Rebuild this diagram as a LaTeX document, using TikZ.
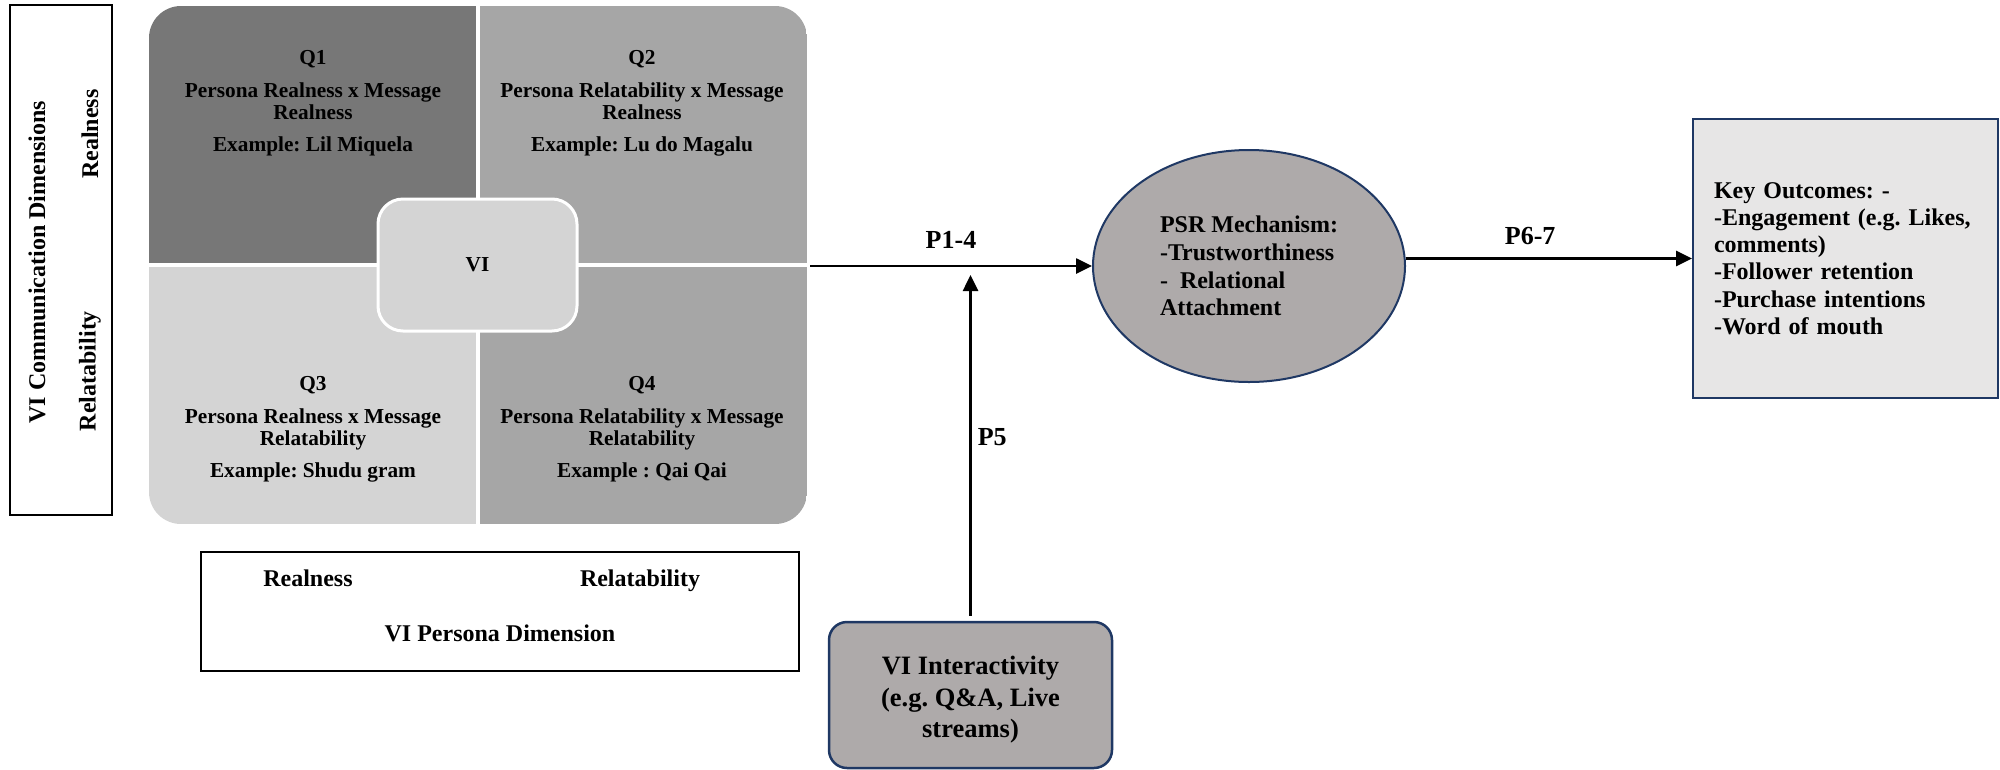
\documentclass[tikz,border=0pt]{standalone}
\usepackage{fontspec}
\setmainfont{Liberation Serif}
\usetikzlibrary{arrows.meta,shapes.geometric}
\definecolor{qa}{HTML}{777777}
\definecolor{qb}{HTML}{A6A6A6}
\definecolor{qc}{HTML}{D4D4D4}
\definecolor{warm}{HTML}{AEAAAA}
\definecolor{navy}{HTML}{1F3864}
\definecolor{lightbg}{HTML}{E7E6E6}
\frenchspacing
\begin{document}
\begin{tikzpicture}[x=1pt,y=-1pt,
  qtext/.style={align=center, font=\bfseries\fontsize{21.3}{22}\selectfont, inner sep=0},
  big/.style={font=\bfseries\fontsize{24}{27}\selectfont, inner sep=0},
  arr/.style={line width=2.6pt, -{Triangle[length=16pt,width=15pt]}},
  plabel/.style={font=\bfseries\fontsize{26}{28}\selectfont, inner sep=0},
  frame/.style={draw, line width=2pt, inner sep=0}
]
\useasboundingbox (0,0) rectangle (2000,769);

% left dimension box
\node[frame, minimum width=102pt, minimum height=510pt] (leftbox) at (61,260) {};
\node[big, rotate=90] (vicd) at (37,262) {VI Communication Dimensions};
\node[big, rotate=90] (lreal) at (90,134) {Realness};
\node[big, rotate=90] (lrel) at (90,371) {Relatability};

% quadrants
\begin{scope}
\clip[rounded corners=32pt] (149,6) rectangle (807,524);
\fill[qa] (149,6) rectangle (478,265);
\fill[qb] (478,6) rectangle (807,265);
\fill[qc] (149,265) rectangle (478,524);
\fill[qb] (478,265) rectangle (807,524);
\draw[white, line width=3.5pt] (478,6) -- (478,524) (149,265) -- (807,265);
\end{scope}

\node[qtext] (q1) at (313,103.5) {Q1\\[11pt]Persona Realness x Message\\Realness\\[10pt]Example: Lil Miquela};
\node[qtext] (q2) at (642,103.5) {Q2\\[11pt]Persona Relatability x Message\\Realness\\[10pt]Example: Lu do Magalu};
\node[qtext] (q3) at (313,429.5) {Q3\\[11pt]Persona Realness x Message\\Relatability\\[10pt]Example: Shudu gram};
\node[qtext] (q4) at (642,429.5) {Q4\\[11pt]Persona Relatability x Message\\Relatability\\[10pt]Example : Qai Qai};

\node[draw=white, fill=qc, line width=3pt, rounded corners=25pt, minimum width=199pt, minimum height=132pt, qtext] (vi) at (477.5,265) {VI};

% bottom persona box
\node[frame, minimum width=598pt, minimum height=119pt] (pbox) at (500,611.5) {};
\node[big, anchor=base] (breal) at (308,586) {Realness};
\node[big, anchor=base] (brel) at (640,586) {Relatability};
\node[big, anchor=base] (bpd) at (500,641) {VI Persona Dimension};

% PSR ellipse
\node[ellipse, draw=navy, fill=warm, line width=2pt, minimum width=312pt, minimum height=232pt, inner sep=0, align=left, font=\bfseries\fontsize{24}{27.7}\selectfont] (psr) at (1249,266) {PSR Mechanism:\\-Trustworthiness\\-\ \ Relational\\Attachment};

% outcomes box
\node[draw=navy, fill=lightbg, line width=2pt, minimum width=305pt, minimum height=279pt, inner xsep=21pt, text width=263pt, align=left, font=\bfseries\fontsize{24}{27.3}\selectfont] (outcome) at (1845.5,258.5) {Key Outcomes: -\\-Engagement (e.g. Likes,\\comments)\\-Follower retention\\-Purchase intentions\\-Word of mouth};

% interactivity box
\node[draw=navy, fill=warm, line width=2.5pt, rounded corners=18pt, minimum width=283pt, minimum height=146pt] (inter) at (970.5,695) {};
\node[align=center, inner sep=0, font=\bfseries\fontsize{26.5}{31.5}\selectfont] (intertxt) at (970.5,700) {VI Interactivity\\(e.g. Q\&A, Live\\streams)};

% connectors
\coordinate (qout) at (810,266);
\coordinate (p5end) at (970.5,275);
\draw[arr] (qout) -- (psr) node[plabel, midway, anchor=south, yshift=16pt] (l14) {P1-4};
\draw[arr, shorten <=5pt] (inter) -- (p5end) node[plabel, pos=0.53, anchor=west, xshift=6pt] (l5) {P5};
\draw[arr] (psr.east |- outcome.west) -- (outcome.west) node[plabel, pos=0.434, anchor=south, yshift=12pt] (l67) {P6-7};
\end{tikzpicture}
\end{document}
